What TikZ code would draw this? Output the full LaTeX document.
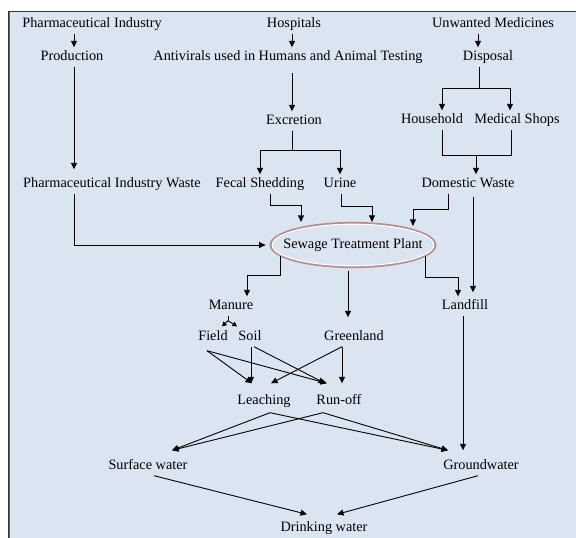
\documentclass[tikz,border=0pt]{standalone}
\usepackage{fontspec}
\setmainfont{Liberation Serif}
\usepackage{tikz}
\usetikzlibrary{arrows.meta}
\usetikzlibrary{shapes.geometric}
\usepackage{xcolor}
\definecolor{panelblue}{HTML}{DBE5F1}
\definecolor{stpbrown}{HTML}{B48C8C}

\begin{document}
\begin{tikzpicture}[x=1pt,y=-1pt]
\tikzset{lbl/.style={inner sep=3pt, text height=10pt, text depth=3pt, text=black, font=\fontsize{14.3}{17}\selectfont}}
\tikzset{plant/.style={lbl, ellipse, draw=stpbrown, line width=2.4pt, inner xsep=-11.5pt, inner ysep=9pt}}
\tikzstyle{pointer} = [-{Triangle[length=6.5pt,width=6pt]}, line width=0.9pt]
\tikzstyle{tiny} = [-{Triangle[length=4.5pt,width=5pt]}, line width=0.9pt]

\useasboundingbox (0,0) rectangle (576,538);
\fill[panelblue] (8,11) rectangle (576,538);
\draw[line width=0.8pt, black!80] (8,538) -- (8,11) -- (576,11);
\draw[line width=1.2pt, black!60] (9.2,538) -- (9.2,12);

\node[lbl] (pi) at (92,24) {Pharmaceutical Industry};
\node[lbl] (hosp) at (294,24) {Hospitals};
\node[lbl] (um) at (493,24) {Unwanted Medicines};
\node[lbl] (prod) at (72,57) {Production};
\node[lbl] (anti) at (288,57) {Antivirals used in Humans and Animal Testing};
\node[lbl] (disp) at (488,57) {Disposal};
\node[lbl] (excr) at (294,121) {Excretion};
\node[lbl] (house) at (432,120) {Household};
\node[lbl] (med) at (517,120) {Medical Shops};
\node[lbl] (piw) at (112,184) {Pharmaceutical Industry Waste};
\node[lbl] (fecal) at (260,184) {Fecal Shedding};
\node[lbl] (urine) at (340,184) {Urine};
\node[lbl] (dom) at (468,184) {Domestic Waste};
\node[plant] (stp) at (353,245) {Sewage Treatment Plant};
\draw[white, line width=1.1pt] (stp.center) ellipse (80.8 and 20.8);
\node[lbl] (manure) at (231,306) {Manure};
\node[lbl] (landfill) at (465,306) {Landfill};
\node[lbl] (field) at (213,337) {Field};
\node[lbl] (soil) at (250,337) {Soil};
\node[lbl] (green) at (354,337) {Greenland};
\node[lbl] (leach) at (264,401) {Leaching};
\node[lbl] (runoff) at (339,401) {Run-off};
\node[lbl] (surf) at (148,466) {Surface water};
\node[lbl] (ground) at (481,466) {Groundwater};
\node[lbl] (drink) at (324,528) {Drinking water};

% top row
\draw[pointer] ([xshift=2pt]prod.north |- pi.south) -- ([xshift=2pt]prod.north);
\draw[pointer] ([xshift=-2pt]hosp.south) -- ([xshift=4pt]anti.north);
\draw[pointer] ([xshift=-15pt]um.south) -- ([xshift=-10pt]disp.north);
\draw[pointer, shorten >=5pt] ([xshift=2pt]prod.south) -- ([xshift=-38pt]piw.north);
\draw[pointer, shorten <=6pt] ([xshift=4pt]anti.south) -- ([xshift=-2pt]excr.north);

% excretion and disposal
\draw[pointer] ([xshift=-2pt]excr.south) -- ++(0,20) -| (fecal.north);
\draw[pointer] ([xshift=-2pt]excr.south) -- ++(0,20) -| (urine.north);
\draw[pointer] ([xshift=-9pt]disp.south) -- ++(0,22) -| ([xshift=10pt]house.north);
\draw[pointer] ([xshift=-9pt]disp.south) -- ++(0,22) -| ([xshift=-7pt]med.north);
\draw ([xshift=10pt]house.south) -- ++(0,25) coordinate (hm) -| ([xshift=-6pt]med.south);
\coordinate (dn) at ([xshift=8pt]dom.north);
\draw[pointer] (hm -| dn) -- (dn);

% into the plant
\draw[pointer, shorten >=4pt] ([xshift=-38pt]piw.south) |- (stp.west);
\draw[pointer] ([xshift=10pt]fecal.south) -- ++(0,12) -| ([xshift=-52pt]stp.north);
\draw[pointer] ([xshift=1pt]urine.south) -- ++(0,13) -| ([xshift=19pt]stp.north);
\draw[pointer] ([xshift=-20pt]dom.south) -- ++(0,16) -| ([xshift=60pt,yshift=-4pt]stp.north);
\draw[pointer, shorten <=3pt] ([xshift=5pt]dom.south) -- ([xshift=8pt,yshift=4pt]landfill.north);

% out of the plant
\draw[pointer] (stp.-9) -- ++(0,21) -| ([xshift=-7pt]landfill.north);
\draw[pointer] (stp.-171) -- ++(0,19) -| ([xshift=16pt]manure.north);
\draw[pointer, shorten <=3pt] ([xshift=-5pt]stp.south) -- ([xshift=-6pt,yshift=10pt]green.north);
\draw ([xshift=-3pt]manure.south) -- ++(0,5) coordinate (mf);
\draw[tiny] (mf) -- ([xshift=9pt,yshift=1pt]field.north);
\draw[tiny] (mf) -- ([xshift=-13pt,yshift=1pt]soil.north);

% land
\draw[pointer] ([xshift=-6pt,yshift=-4pt]field.south) -- ([xshift=-12pt,yshift=8pt]leach.north);
\draw[pointer] ([xshift=-6pt,yshift=-4pt]field.south) -- ([xshift=-12pt,yshift=8pt]runoff.north);
\draw[pointer] ([xshift=1pt]soil.south) -- ([xshift=-13pt,yshift=8pt]leach.north);
\draw[pointer] ([xshift=4pt]soil.south) -- ([xshift=-14pt,yshift=8pt]runoff.north);
\draw[pointer] ([xshift=-12pt]green.south) -- ([xshift=7pt,yshift=8pt]leach.north);
\draw[pointer] ([xshift=-12pt]green.south) -- ([xshift=3pt,yshift=8pt]runoff.north);

% water
\draw[pointer] ([xshift=6pt,yshift=-2pt]leach.south) -- ([xshift=24pt,yshift=6pt]surf.north);
\draw[pointer] ([xshift=6pt,yshift=-2pt]leach.south) -- ([xshift=-33pt,yshift=6pt]ground.north);
\draw[pointer] ([xshift=-16pt,yshift=-2pt]runoff.south) -- ([xshift=24pt,yshift=6pt]surf.north);
\draw[pointer] ([xshift=-16pt,yshift=-2pt]runoff.south) -- ([xshift=-33pt,yshift=6pt]ground.north);
\draw[pointer] ([xshift=-2pt]landfill.south) -- ([xshift=-18pt,yshift=6pt]ground.north);
\draw[pointer] ([xshift=6pt]surf.south) -- ([xshift=-17pt,yshift=4pt]drink.north);
\draw[pointer] ([xshift=-3pt]ground.south) -- ([xshift=13pt,yshift=4pt]drink.north);
\end{tikzpicture}
\end{document}
